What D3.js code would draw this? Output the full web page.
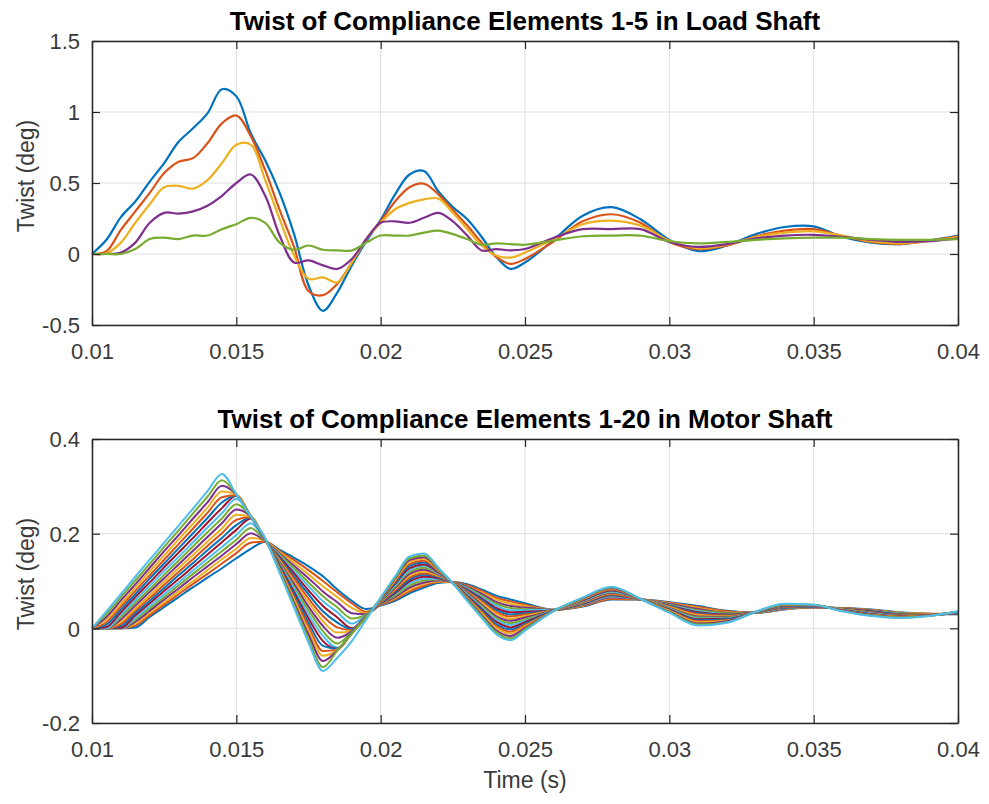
<!DOCTYPE html>
<html>
<head>
<meta charset="utf-8">
<script src="https://cdn.jsdelivr.net/npm/d3@7"></script>
<style>
  html, body { margin: 0; padding: 0; background: #fff; }
  svg text { font-family: "Liberation Sans", Arial, Helvetica, sans-serif; }
</style>
</head>
<body>
<div id="chart"></div>
<script>
// sample times (s)
var time = [0.0100,0.0105,0.0110,0.0115,0.0120,0.0125,0.0130,0.0135,0.0140,0.0145,0.0150,0.0155,0.0160,0.0165,0.0170,0.0175,0.0180,0.0185,0.0190,0.0195,0.0200,0.0205,0.0210,0.0215,0.0220,0.0225,0.0230,0.0235,0.0240,0.0245,0.0250,0.026,0.027,0.028,0.029,0.030,0.031,0.032,0.033,0.034,0.035,0.036,0.037,0.038,0.039,0.040];

// load shaft, elements 1-5 (deg)
var load1 = [0,.10,.26,.37,.51,.64,.79,.885,.99,1.16,1.11,.85,.66,.43,.14,-.22,-.40,-.27,-.08,.09,.24,.42,.56,.585,.44,.33,.245,.12,-.02,-.105,-.06,.10,.27,.33,.245,.10,.02,.06,.14,.19,.195,.12,.08,.07,.095,.13];
var load2 = [0,.02,.17,.30,.43,.57,.65,.675,.78,.92,.975,.83,.59,.31,.05,-.26,-.29,-.21,-.06,.105,.23,.37,.47,.495,.42,.31,.20,.08,-.02,-.07,-.035,.09,.23,.28,.22,.085,.035,.06,.125,.165,.175,.125,.085,.07,.095,.125];
var load3 = [0,.005,.08,.22,.35,.47,.48,.46,.52,.64,.77,.77,.52,.245,-.01,-.175,-.165,-.20,-.06,.105,.22,.315,.36,.385,.39,.29,.175,.06,-.01,-.025,.01,.105,.21,.235,.20,.095,.04,.065,.12,.15,.16,.13,.09,.075,.09,.12];
var load4 = [0,0,.01,.08,.22,.29,.285,.30,.34,.41,.50,.56,.41,.13,-.06,-.045,-.08,-.105,-.035,.105,.22,.23,.22,.255,.29,.23,.13,.025,.035,.025,.035,.115,.175,.175,.175,.085,.05,.07,.11,.13,.135,.12,.10,.085,.09,.11];
var load5 = [0,0,0,.035,.105,.115,.105,.13,.13,.175,.21,.255,.22,.08,.03,.06,.03,.025,.025,.08,.13,.13,.13,.15,.165,.14,.105,.065,.075,.07,.065,.095,.125,.13,.13,.09,.075,.085,.10,.11,.115,.115,.105,.10,.10,.105];

// motor shaft, elements 1-20 (deg)
var motor1  = [0,0,0,.002,.024,.045,.066,.087,.107,.127,.148,.168,.183,.166,.149,.131,.110,.082,.058,.041,.048,.058,.074,.086,.096,.098,.093,.082,.069,.061,.053,.039,.046,.061,.061,.055,.047,.037,.033,.040,.044,.043,.040,.034,.031,.030];
var motor2  = [0,0,0,.006,.028,.050,.072,.094,.115,.137,.159,.181,.183,.163,.144,.123,.100,.076,.053,.035,.049,.061,.078,.090,.098,.098,.091,.079,.065,.057,.050,.039,.047,.062,.061,.054,.045,.036,.033,.041,.044,.043,.039,.033,.031,.030];
var motor3  = [0,0,0,.010,.033,.055,.078,.100,.123,.146,.168,.191,.184,.161,.138,.114,.089,.066,.043,.032,.050,.064,.082,.094,.099,.098,.089,.076,.061,.052,.047,.039,.048,.064,.061,.053,.043,.034,.033,.041,.045,.042,.039,.033,.031,.031];
var motor4  = [0,0,0,.014,.037,.061,.084,.108,.131,.154,.178,.201,.184,.158,.132,.106,.078,.055,.032,.030,.051,.066,.086,.097,.101,.098,.088,.073,.056,.047,.044,.039,.049,.065,.061,.052,.041,.033,.033,.042,.045,.042,.038,.032,.030,.031];
var motor5  = [0,0,0,.018,.042,.066,.091,.115,.139,.163,.187,.212,.184,.156,.127,.097,.068,.044,.021,.029,.052,.069,.090,.101,.103,.097,.086,.069,.052,.043,.041,.039,.050,.067,.061,.050,.038,.032,.033,.043,.045,.042,.037,.032,.030,.031];
var motor6  = [0,0,0,.022,.047,.072,.097,.122,.147,.172,.197,.222,.185,.153,.121,.089,.057,.034,.010,.028,.053,.072,.095,.105,.104,.097,.084,.066,.048,.038,.038,.039,.051,.068,.061,.049,.036,.030,.034,.043,.046,.041,.036,.031,.030,.032];
var motor7  = [0,0,.001,.027,.053,.079,.104,.130,.156,.182,.208,.232,.185,.151,.116,.080,.047,.023,.000,.027,.053,.074,.099,.109,.106,.097,.082,.063,.043,.034,.035,.038,.052,.070,.061,.048,.034,.029,.034,.044,.046,.041,.036,.030,.029,.032];
var motor8  = [0,0,.005,.032,.058,.085,.112,.138,.165,.191,.218,.234,.186,.148,.110,.072,.036,.012,-.002,.026,.054,.077,.103,.113,.108,.097,.080,.060,.039,.029,.032,.038,.053,.071,.061,.047,.032,.028,.034,.044,.046,.040,.035,.030,.029,.032];
var motor9  = [0,0,.009,.037,.064,.092,.119,.146,.174,.201,.229,.235,.186,.145,.105,.063,.026,.002,-.004,.026,.055,.080,.107,.116,.110,.097,.078,.057,.035,.025,.029,.038,.054,.072,.061,.046,.030,.027,.034,.045,.047,.040,.034,.029,.029,.033];
var motor10 = [0,0,.014,.042,.070,.099,.127,.155,.183,.211,.240,.236,.186,.143,.099,.055,.015,-.009,-.005,.026,.056,.083,.111,.120,.111,.097,.076,.054,.031,.020,.026,.038,.055,.074,.062,.045,.028,.025,.034,.046,.047,.040,.033,.028,.029,.033];
var motor11 = [0,0,.019,.048,.077,.106,.135,.164,.193,.222,.251,.236,.187,.140,.094,.046,.005,-.020,-.006,.025,.057,.085,.115,.124,.113,.096,.075,.050,.026,.016,.023,.038,.056,.075,.062,.043,.025,.024,.034,.046,.047,.039,.033,.028,.028,.033];
var motor12 = [0,0,.024,.054,.083,.113,.143,.173,.203,.232,.262,.236,.187,.138,.088,.038,-.006,-.032,-.007,.025,.058,.088,.119,.128,.115,.096,.073,.047,.022,.011,.019,.038,.057,.077,.062,.042,.023,.023,.034,.047,.048,.039,.032,.027,.028,.034];
var motor13 = [0,0,.029,.060,.090,.121,.151,.182,.213,.243,.274,.236,.187,.135,.083,.029,-.016,-.041,-.008,.025,.059,.091,.123,.132,.116,.096,.071,.044,.018,.007,.016,.038,.058,.078,.062,.041,.021,.021,.034,.048,.048,.039,.031,.026,.028,.034];
var motor14 = [0,.003,.034,.066,.097,.129,.160,.191,.223,.254,.280,.236,.188,.133,.077,.021,-.027,-.043,-.009,.025,.060,.094,.127,.135,.118,.096,.069,.041,.014,.002,.013,.038,.059,.080,.062,.040,.019,.020,.034,.048,.048,.038,.030,.026,.028,.034];
var motor15 = [0,.008,.040,.072,.105,.137,.169,.201,.233,.266,.280,.236,.188,.130,.072,.012,-.037,-.043,-.009,.025,.061,.096,.132,.139,.120,.096,.067,.038,.009,-.002,.010,.038,.060,.081,.062,.039,.017,.019,.035,.049,.048,.038,.030,.025,.027,.034];
var motor16 = [0,.013,.046,.079,.112,.145,.178,.211,.244,.277,.281,.236,.189,.127,.066,.004,-.048,-.045,-.010,.024,.061,.099,.136,.143,.121,.096,.065,.035,.005,-.007,.007,.037,.061,.082,.062,.038,.015,.017,.035,.050,.049,.038,.029,.025,.027,.035];
var motor17 = [0,.019,.052,.086,.120,.154,.188,.221,.255,.289,.282,.237,.189,.125,.061,-.005,-.058,-.045,-.011,.024,.062,.102,.140,.147,.123,.096,.064,.032,.001,-.011,.004,.037,.062,.084,.062,.037,.013,.016,.035,.050,.049,.037,.028,.024,.027,.035];
var motor18 = [0,.024,.059,.093,.128,.163,.197,.232,.266,.301,.282,.237,.189,.122,.055,-.013,-.069,-.046,-.011,.024,.063,.105,.144,.150,.125,.095,.062,.028,-.004,-.016,.001,.037,.063,.085,.062,.035,.010,.015,.035,.051,.049,.037,.028,.023,.027,.035];
var motor19 = [0,.030,.066,.101,.136,.172,.207,.243,.278,.313,.283,.237,.190,.120,.050,-.022,-.082,-.047,-.011,.024,.064,.107,.148,.154,.126,.095,.060,.025,-.008,-.021,-.002,.037,.064,.087,.062,.034,.008,.013,.035,.051,.050,.036,.027,.023,.026,.036];
var motor20 = [0,.036,.072,.109,.145,.181,.217,.253,.290,.326,.283,.236,.190,.117,.044,-.030,-.090,-.062,-.027,.019,.065,.110,.152,.158,.128,.095,.058,.022,-.012,-.025,-.005,.037,.065,.088,.062,.033,.006,.012,.035,.052,.050,.036,.026,.022,.026,.036];

var xTicks = [0.01,0.015,0.02,0.025,0.03,0.035,0.04];
var loadTicks = [-0.5,0,0.5,1,1.5];
var motorTicks = [-0.2,0,0.2,0.4];
var titles = ["Twist of Compliance Elements 1-5 in Load Shaft", "Twist of Compliance Elements 1-20 in Motor Shaft"];
var colors = ["#0072BD","#D95319","#EDB120","#7E2F8E","#77AC30","#4DBEEE","#A2142F"];

var width = 989, height = 804,
    left = 92, right = 958,
    tickFont = 22, labelFont = 23, titleFont = 26,
    axisColor = "#262626", textColor = "#3a3a3a";

var svg = d3.select("#chart")
    .append("svg")
    .attr("width", width)
    .attr("height", height);

function panel(top, bottom, yDomain, yTicks, series, title, curve, lw) {
    var x = d3.scaleLinear().domain([0.01, 0.04]).range([left, right]);
    var y = d3.scaleLinear().domain(yDomain).range([bottom, top]);
    var g = svg.append("g");

    // grid
    g.selectAll(".gx").data(xTicks).enter().append("line")
        .attr("x1", d => x(d)).attr("x2", d => x(d))
        .attr("y1", top).attr("y2", bottom)
        .attr("stroke", "#dfdfdf").attr("stroke-width", 1);
    g.selectAll(".gy").data(yTicks).enter().append("line")
        .attr("x1", left).attr("x2", right)
        .attr("y1", d => y(d)).attr("y2", d => y(d))
        .attr("stroke", "#dfdfdf").attr("stroke-width", 1);

    // series
    var line = d3.line()
        .x((d, i) => x(time[i]))
        .y(d => y(d))
        .curve(curve);
    g.selectAll(".series").data(series).enter().append("path")
        .attr("d", line)
        .attr("fill", "none")
        .attr("stroke", (d, i) => colors[i % 7])
        .attr("stroke-width", lw)
        .attr("stroke-linejoin", "round");

    // box with inward ticks
    var fmt = d => String(d);
    var axB = g.append("g").attr("transform", "translate(0," + bottom + ")")
        .call(d3.axisBottom(x).tickValues(xTicks).tickSize(-8).tickSizeOuter(0).tickPadding(18).tickFormat(fmt));
    var axT = g.append("g").attr("transform", "translate(0," + top + ")")
        .call(d3.axisTop(x).tickValues(xTicks).tickSize(-8).tickSizeOuter(0).tickFormat(""));
    var axL = g.append("g").attr("transform", "translate(" + left + ",0)")
        .call(d3.axisLeft(y).tickValues(yTicks).tickSize(-8).tickSizeOuter(0).tickPadding(12).tickFormat(fmt));
    var axR = g.append("g").attr("transform", "translate(" + right + ",0)")
        .call(d3.axisRight(y).tickValues(yTicks).tickSize(-8).tickSizeOuter(0).tickFormat(""));

    [axB, axT, axL, axR].forEach(function (a) {
        a.selectAll("path.domain").attr("stroke", axisColor).attr("stroke-width", 1.5);
        a.selectAll(".tick line").attr("stroke", axisColor).attr("stroke-width", 1.2);
        a.selectAll("text")
            .attr("font-family", "'Liberation Sans', Arial, Helvetica, sans-serif")
            .attr("font-size", tickFont)
            .attr("fill", textColor);
    });
    axL.selectAll("text").attr("dy", "0.36em");

    // title
    svg.append("text")
        .attr("x", (left + right) / 2)
        .attr("y", top - 11)
        .attr("text-anchor", "middle")
        .attr("font-size", titleFont)
        .attr("font-weight", "bold")
        .attr("fill", "#000")
        .text(title);

    // y label
    svg.append("text")
        .attr("transform", "translate(34," + ((top + bottom) / 2 - 7) + ") rotate(-90)")
        .attr("text-anchor", "middle")
        .attr("font-size", labelFont)
        .attr("fill", textColor)
        .text("Twist (deg)");

    return x;
}

panel(41, 325, [-0.5, 1.5], loadTicks, [load1, load2, load3, load4, load5], titles[0],
      d3.curveCatmullRom.alpha(0.5), 2.2);

panel(439, 723, [-0.2, 0.4], motorTicks,
      [motor1, motor2, motor3, motor4, motor5, motor6, motor7, motor8, motor9, motor10,
       motor11, motor12, motor13, motor14, motor15, motor16, motor17, motor18, motor19, motor20],
      titles[1], d3.curveMonotoneX, 2);

// x label
svg.append("text")
    .attr("x", (left + right) / 2)
    .attr("y", 788)
    .attr("text-anchor", "middle")
    .attr("font-size", labelFont)
    .attr("fill", textColor)
    .text("Time (s)");
</script>
</body>
</html>
